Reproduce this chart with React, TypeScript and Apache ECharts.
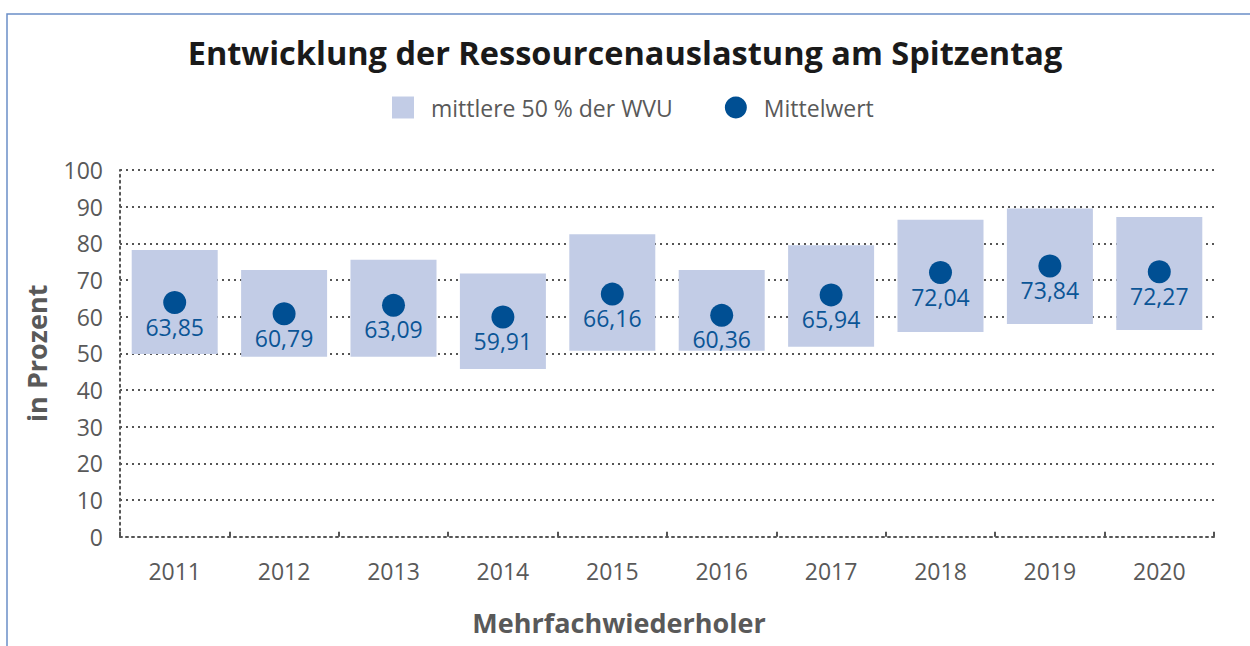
import React, { useEffect, useRef } from "react";
import * as echarts from "echarts";

const years = ["2011", "2012", "2013", "2014", "2015", "2016", "2017", "2018", "2019", "2020"];
const lowerQuartile = [49.8, 49.1, 49.1, 45.7, 50.7, 50.7, 51.8, 55.8, 58.0, 56.4];
const upperQuartile = [78.2, 72.7, 75.5, 71.8, 82.5, 72.7, 79.5, 86.4, 89.5, 87.2];
const meanValues = [63.85, 60.79, 63.09, 59.91, 66.16, 60.36, 65.94, 72.04, 73.84, 72.27];

const TITLE = "Entwicklung der Ressourcenauslastung am Spitzentag";
const BOX_NAME = "mittlere 50 % der WVU";
const MEAN_NAME = "Mittelwert";
const X_NAME = "Mehrfachwiederholer";
const Y_NAME = "in Prozent";

const FONT = "'Open Sans', 'Noto Sans', sans-serif";
const GRAY = "#595959";
const BOX_COLOR = "#c2cce6";
const DOT_COLOR = "#004f93";

export default function App() {
  const ref = useRef<HTMLDivElement>(null);

  useEffect(() => {
    document.body.style.margin = "0";
    if (!ref.current) return;
    const chart = echarts.init(ref.current, undefined, { renderer: "svg" });
    const boxHeights = upperQuartile.map((u, i) => +(u - lowerQuartile[i]).toFixed(2));

    chart.setOption({
      animation: false,
      backgroundColor: "#ffffff",
      textStyle: { fontFamily: FONT },
      title: {
        text: TITLE,
        left: "center",
        top: 31,
        padding: [5, 12, 5, 5],
        textStyle: { fontFamily: FONT, fontSize: 32.5, fontWeight: "bold", color: "#1a1a1a" },
      },
      legend: {
        left: 392,
        top: 96,
        padding: 0,
        itemWidth: 22,
        itemHeight: 22,
        itemGap: 52,
        selectedMode: false,
        textStyle: { fontFamily: FONT, fontSize: 23, color: GRAY, padding: [0, 0, 0, 12] },
        data: [
          { name: BOX_NAME, icon: "rect" },
          { name: MEAN_NAME, icon: "circle" },
        ],
      },
      graphic: [
        {
          type: "rect",
          shape: { x: 7, y: 14, width: 1400, height: 800 },
          style: { fill: "none", stroke: "#6b8fc7", lineWidth: 1.5 },
          silent: true,
          z: -10,
        },
      ],
      grid: { left: 120, right: 36, top: 170, bottom: 109.3 },
      xAxis: {
        type: "category",
        data: years,
        boundaryGap: true,
        name: X_NAME,
        nameLocation: "middle",
        nameGap: 72,
        nameTextStyle: {
          fontFamily: FONT,
          fontSize: 27,
          fontWeight: "bold",
          color: GRAY,
          padding: [0, 96, 0, 0],
        },
        axisLine: { show: true, lineStyle: { color: "#555", type: [2, 4], width: 2 } },
        axisTick: { show: true, inside: true, length: 5, lineStyle: { color: "#555", width: 2 } },
        axisLabel: { fontFamily: FONT, fontSize: 23, color: GRAY, margin: 23 },
      },
      yAxis: {
        type: "value",
        min: 0,
        max: 100,
        interval: 10,
        name: Y_NAME,
        nameLocation: "middle",
        nameGap: 70,
        nameTextStyle: { fontFamily: FONT, fontSize: 27, fontWeight: "bold", color: GRAY },
        axisLine: { show: true, lineStyle: { color: "#555", type: [2, 4], width: 2 } },
        axisTick: { show: false },
        axisLabel: { fontFamily: FONT, fontSize: 23, color: GRAY, margin: 17 },
        splitLine: { show: true, lineStyle: { color: "#555", type: [2, 4], width: 2 } },
      },
      series: [
        {
          name: "base",
          type: "bar",
          stack: "box",
          data: lowerQuartile,
          barWidth: 86,
          itemStyle: { color: "rgba(0,0,0,0)" },
          silent: true,
          z: 2,
        },
        {
          name: BOX_NAME,
          type: "bar",
          stack: "box",
          data: boxHeights,
          barWidth: 86,
          itemStyle: { color: BOX_COLOR },
          z: 2,
        },
        {
          name: MEAN_NAME,
          type: "scatter",
          data: meanValues,
          symbol: "circle",
          symbolSize: 23,
          itemStyle: { color: DOT_COLOR, opacity: 1 },
          z: 5,
          label: {
            show: true,
            position: "bottom",
            distance: 1,
            fontFamily: FONT,
            fontSize: 23,
            color: "#0b5596",
            formatter: (p: any) => Number(p.value).toFixed(2).replace(".", ","),
          },
        },
      ],
    });

    return () => chart.dispose();
  }, []);

  return <div ref={ref} style={{ width: 1250, height: 646 }} />;
}
